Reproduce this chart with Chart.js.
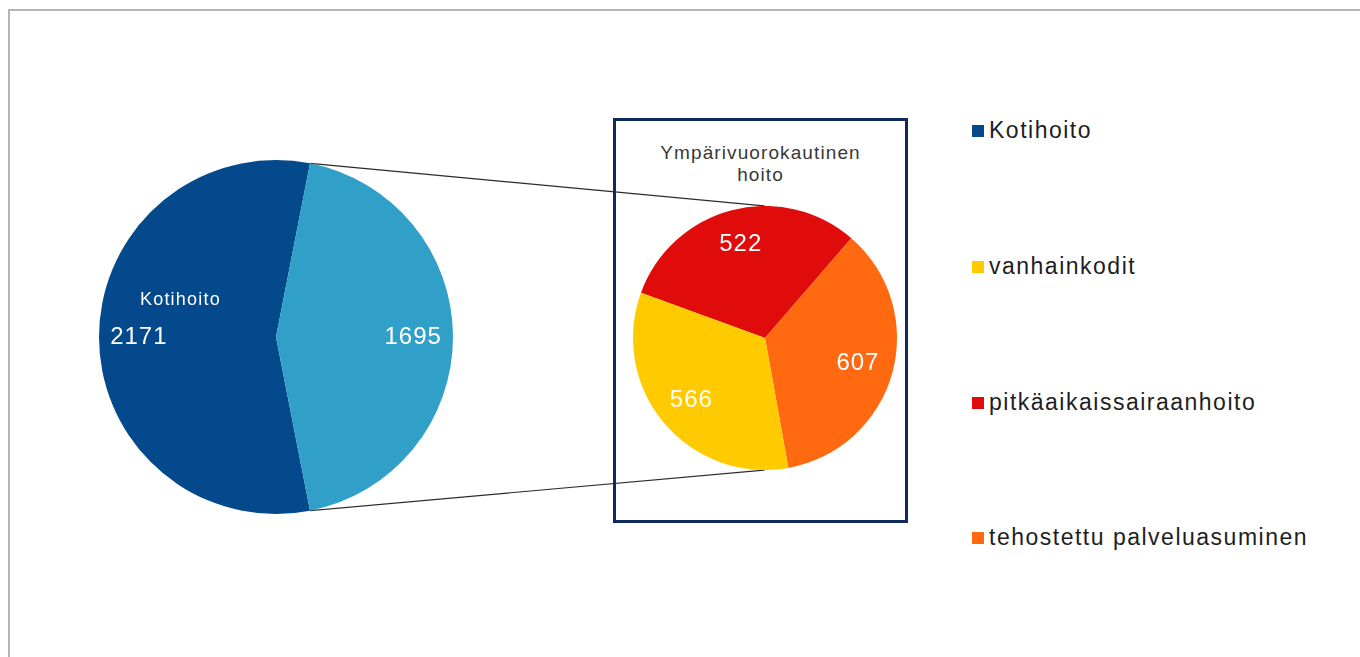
<!DOCTYPE html>
<html>
<head>
<meta charset="utf-8">
<script src="https://cdn.jsdelivr.net/npm/chart.js@4.4.1/dist/chart.umd.min.js"></script>
<style>
  html, body { margin: 0; padding: 0; background: #fff; width: 1360px; height: 657px; overflow: hidden;
    font-family: "Liberation Sans", Arial, sans-serif; }
  #frame { position: absolute; left: 8px; top: 9px; width: 1400px; height: 700px;
    border-top: 2px solid #b5b5b5; border-left: 2px solid #b5b5b5; }
  #box { position: absolute; left: 613px; top: 118px; width: 289px; height: 399px;
    border: 3px solid #0f2b5e; }
  #boxTitle { position: absolute; left: 0; right: 0; top: 21px; text-align: center;
    font-size: 19px; line-height: 22px; letter-spacing: 1.1px; color: #383838; }
  #links { position: absolute; left: 0; top: 0; width: 1360px; height: 657px; }
  #mainWrap { position: absolute; left: 99px; top: 160px; width: 354px; height: 354px; }
  #subWrap { position: absolute; left: 633px; top: 206px; width: 264px; height: 264px; }
  .lg { position: absolute; left: 972px; height: 26px; line-height: 26px; font-size: 23px;
    letter-spacing: 1.5px; color: #1e1e1e; white-space: nowrap; }
  .lg i { display: inline-block; width: 12px; height: 12px; margin-right: 5px; vertical-align: 1px; }
</style>
</head>
<body>
<div id="frame"></div>
<div id="box"><div id="boxTitle"></div></div>
<svg id="links" xmlns="http://www.w3.org/2000/svg"></svg>
<div id="mainWrap"><canvas id="mainPie" width="354" height="354"></canvas></div>
<div id="subWrap"><canvas id="subPie" width="264" height="264"></canvas></div>
<div id="legend"></div>
<script>
// ---- data ----
const mainLabels = ['Kotihoito', 'Ympärivuorokautinen hoito'];
const mainValues = [2171, 1695];
const mainColors = ['#03498c', '#31a0c8'];

const subLabels = ['pitkäaikaissairaanhoito', 'tehostettu palveluasuminen', 'vanhainkodit'];
const subValues = [522, 607, 566];
const subColors = ['#e00c0c', '#ff6a10', '#ffcb00'];

const subTitleLines = ['Ympärivuorokautinen', 'hoito'];
const legendLabels = ['Kotihoito', 'vanhainkodit', 'pitkäaikaissairaanhoito', 'tehostettu palveluasuminen'];
const legendCenters = [130, 266, 402, 537];

// ---- helpers ----
function colorFor(label) {
  let i = mainLabels.indexOf(label);
  if (i >= 0) return mainColors[i];
  i = subLabels.indexOf(label);
  return subColors[i];
}

const sliceLabels = {
  id: 'sliceLabels',
  afterDatasetsDraw(chart, args, opts) {
    const ctx = chart.ctx;
    const meta = chart.getDatasetMeta(0);
    const values = chart.data.datasets[0].data;
    ctx.save();
    ctx.fillStyle = '#ffffff';
    ctx.textAlign = 'center';
    ctx.textBaseline = 'middle';
    meta.data.forEach((arc, i) => {
      const p = arc.getProps(['x', 'y', 'startAngle', 'endAngle', 'outerRadius'], true);
      const mid = (p.startAngle + p.endAngle) / 2;
      const r = p.outerRadius * opts.radiusFrac;
      ctx.font = opts.valueFont;
      ctx.letterSpacing = opts.spacing;
      ctx.fillText(String(values[i]), p.x + Math.cos(mid) * r, p.y + Math.sin(mid) * r);
      if (opts.nameIndex === i) {
        ctx.font = opts.nameFont;
        ctx.letterSpacing = opts.nameSpacing;
        ctx.fillText(chart.data.labels[i],
          p.x + opts.nameOffset[0] * p.outerRadius,
          p.y + opts.nameOffset[1] * p.outerRadius);
      }
    });
    ctx.restore();
  }
};

const otherSpanDeg = mainValues[1] / (mainValues[0] + mainValues[1]) * 360;

const mainChart = new Chart(document.getElementById('mainPie'), {
  type: 'pie',
  data: { labels: mainLabels, datasets: [{ data: mainValues, backgroundColor: mainColors, borderWidth: 0 }] },
  options: {
    responsive: false, animation: false, devicePixelRatio: 1,
    rotation: 90 + otherSpanDeg / 2,
    layout: { padding: 0 },
    plugins: {
      legend: { display: false }, tooltip: { enabled: false },
      sliceLabels: { radiusFrac: 0.775, valueFont: '24px "Liberation Sans", Arial, sans-serif',
        nameFont: '18px "Liberation Sans", Arial, sans-serif', spacing: '1px', nameSpacing: '1.2px',
        nameIndex: 0, nameOffset: [-0.54, -0.21] }
    }
  },
  plugins: [sliceLabels]
});

const subChart = new Chart(document.getElementById('subPie'), {
  type: 'pie',
  data: { labels: subLabels, datasets: [{ data: subValues, backgroundColor: subColors, borderWidth: 0 }] },
  options: {
    responsive: false, animation: false, devicePixelRatio: 1,
    rotation: -70,
    layout: { padding: 0 },
    plugins: {
      legend: { display: false }, tooltip: { enabled: false },
      sliceLabels: { radiusFrac: 0.73, valueFont: '24px "Liberation Sans", Arial, sans-serif',
        nameFont: '18px "Liberation Sans", Arial, sans-serif', spacing: '1px', nameSpacing: '1.2px',
        nameIndex: -1, nameOffset: [0, 0] }
    }
  },
  plugins: [sliceLabels]
});

// ---- box title ----
document.getElementById('boxTitle').innerHTML = subTitleLines.join('<br>');

// ---- legend ----
const legendEl = document.getElementById('legend');
legendLabels.forEach((lab, i) => {
  const d = document.createElement('div');
  d.className = 'lg';
  d.style.top = (legendCenters[i] - 13) + 'px';
  const sw = document.createElement('i');
  sw.style.background = colorFor(lab);
  d.appendChild(sw);
  d.appendChild(document.createTextNode(lab));
  legendEl.appendChild(d);
});

// ---- connector lines from chart geometry ----
function drawLinks() {
  const svg = document.getElementById('links');
  const mw = document.getElementById('mainWrap'), sw = document.getElementById('subWrap');
  const mArc = mainChart.getDatasetMeta(0).data[1].getProps(['x', 'y', 'startAngle', 'endAngle', 'outerRadius'], true);
  const sArc = subChart.getDatasetMeta(0).data[0].getProps(['x', 'y', 'outerRadius'], true);
  const mx = mw.offsetLeft + mArc.x, my = mw.offsetTop + mArc.y, mr = mArc.outerRadius;
  const sx = sw.offsetLeft + sArc.x, sy = sw.offsetTop + sArc.y, sr = sArc.outerRadius;
  const p1 = [mx + Math.cos(mArc.startAngle) * mr, my + Math.sin(mArc.startAngle) * mr];
  const p2 = [mx + Math.cos(mArc.endAngle) * mr, my + Math.sin(mArc.endAngle) * mr];
  const q1 = [sx, sy - sr], q2 = [sx, sy + sr];
  const mk = (a, b) => `<line x1="${a[0]}" y1="${a[1]}" x2="${b[0]}" y2="${b[1]}" stroke="#2a2a2a" stroke-width="1.2"/>`;
  svg.innerHTML = mk(p1, q1) + mk(p2, q2);
}
drawLinks();
</script>
</body>
</html>
